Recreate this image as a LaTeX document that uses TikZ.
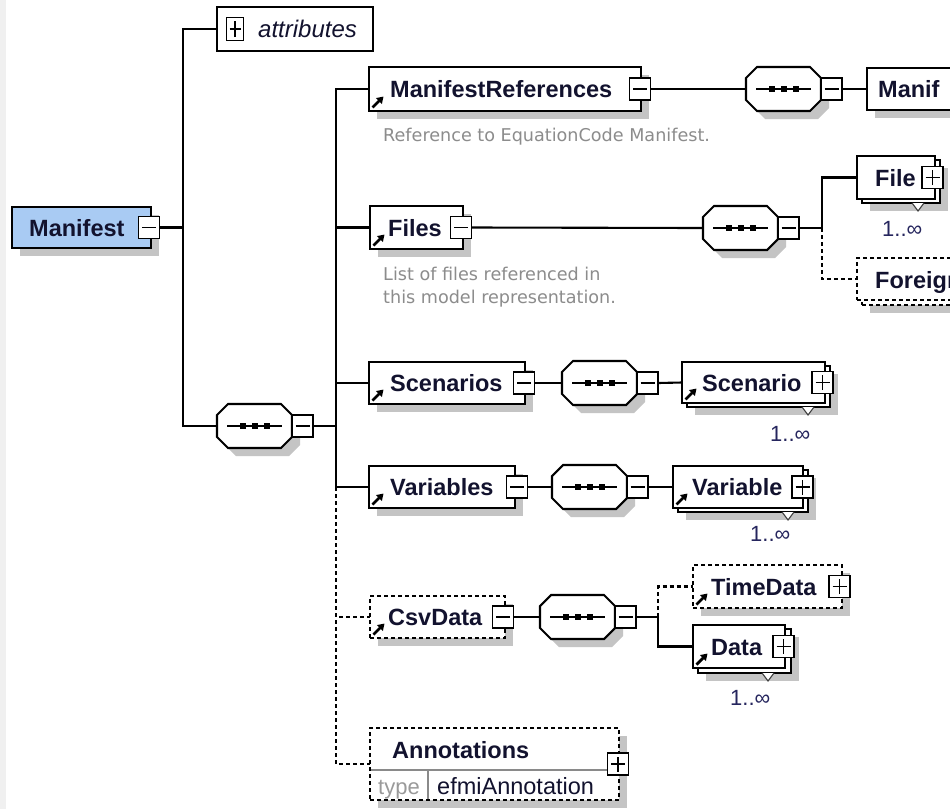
\documentclass[tikz,border=0pt]{standalone}
\usepackage{fontspec}
\setmainfont{Liberation Sans}
\newfontfamily\descfont{DejaVu Sans}
\usetikzlibrary{shadows,arrows.meta}
\definecolor{txt}{HTML}{12122E}
\definecolor{descc}{HTML}{8C8C8C}
\definecolor{multc}{HTML}{26265E}
\definecolor{shc}{HTML}{C4C4C4}
\definecolor{manc}{HTML}{A9CBF3}
\definecolor{typec}{HTML}{9A9A9A}
\definecolor{sepc}{HTML}{8A8A8A}
\definecolor{leftc}{HTML}{F0F0F0}
\tikzset{
  shd/.style={general shadow={fill=shc, draw=none, shadow xshift=8pt, shadow yshift=-8pt}},
  box/.style={draw=black, line width=2.1pt, fill=white, rectangle, inner sep=0pt, outer sep=0pt},
  optbox/.style={box, dash pattern=on 4pt off 3pt},
  seqnode/.style={rectangle, draw=none, inner sep=0pt, outer sep=0pt, minimum width=75pt, minimum height=44pt},
  pmbox/.style={box, line width=1.9pt, minimum width=21pt, minimum height=22pt},
  lab/.style={font=\fontsize{23.5}{28}\selectfont\bfseries, text=txt, inner sep=0pt, anchor=base west},
  attrlab/.style={font=\fontsize{24}{28}\selectfont\itshape, text=txt, inner sep=0pt, anchor=base west},
  desc/.style={font=\descfont\fontsize{17.6}{24}\selectfont, text=descc, inner sep=0pt, anchor=base west},
  mult/.style={font=\fontsize{22}{26}\selectfont, text=multc, inner sep=0pt, anchor=base west},
  typel/.style={font=\fontsize{22}{26}\selectfont, text=typec, inner sep=0pt, anchor=base west},
  vall/.style={font=\fontsize{23.5}{28}\selectfont, text=txt, inner sep=0pt, anchor=base west},
  conn/.style={line width=2.1pt, draw=black},
  optconn/.style={conn, dash pattern=on 4pt off 3pt},
}
% style, name, x1, y1, x2, y2
\newcommand\ElemBox[6]{\node[#1, minimum width={#5-#3}, minimum height={#6-#4}] (#2) at ({(#3+#5)/2},{(#4+#6)/2}) {};}
\newcommand\MinusBox[3]{\node[pmbox] (#1) at (#2,#3) {};
  \draw[line width=1.7pt] ([xshift=3.5pt]#1.west) -- ([xshift=-3.5pt]#1.east);}
\newcommand\PlusBox[3]{\node[pmbox] (#1) at (#2,#3) {};
  \draw[line width=1.7pt] ([xshift=3.5pt]#1.west) -- ([xshift=-3.5pt]#1.east)
    ([yshift=3.5pt]#1.south) -- ([yshift=-3.5pt]#1.north);}
\newcommand\RefArrow[1]{\draw[line width=2.8pt, -{Triangle[length=6.5pt,width=8pt]}]
  ([shift={(3.5pt,3.5pt)}]#1.south west) -- ++(11pt,11pt);}
\newcommand\MultTri[2]{\fill[white] (#1-6,#2) -- (#1,#2+8) -- (#1+6,#2) -- cycle;
  \draw[line width=1.1pt, draw=black!75] (#1-6,#2) -- (#1,#2+8) -- (#1+6,#2);}
\newcommand\SeqAt[3]{%
  \fill[shc, shift={(#2+8,#3+8)}] (-26.5,-22) -- (26.5,-22) -- (37.5,-11) -- (37.5,11) -- (26.5,22) -- (-26.5,22) -- (-37.5,11) -- (-37.5,-11) -- cycle;
  \draw[line width=2.1pt, fill=white, shift={(#2,#3)}] (-26.5,-22) -- (26.5,-22) -- (37.5,-11) -- (37.5,11) -- (26.5,22) -- (-26.5,22) -- (-37.5,11) -- (-37.5,-11) -- cycle;
  \node[seqnode] (#1) at (#2,#3) {};
  \draw[line width=1.7pt] ([xshift=10pt]#1.west) -- ([xshift=-10pt]#1.east);
  \fill ([xshift=-12pt]#1.center) +(-3pt,-3pt) rectangle +(3pt,3pt);
  \fill (#1.center) +(-3pt,-3pt) rectangle +(3pt,3pt);
  \fill ([xshift=12pt]#1.center) +(-3pt,-3pt) rectangle +(3pt,3pt);
  \MinusBox{#1m}{#2+48}{#3}}
\begin{document}
\begin{tikzpicture}[x=1pt,y=-1pt]
\useasboundingbox (0,0) rectangle (950,809);
\clip (0,0) rectangle (950,809);
\fill[white] (0,0) rectangle (950,809);
\fill[leftc] (0,0) rectangle (6,809);

% ---------- Manifest root
\ElemBox{box,shd,fill=manc}{man}{12}{207}{151}{248}
\node[lab] (mant) at (29,236) {Manifest};
\MinusBox{manm}{149}{227.5}

% ---------- attributes
\ElemBox{box}{attr}{217}{7}{373}{51}
\node[pmbox, minimum width=17pt, minimum height=23pt] (attrp) at (235,29) {};
\draw[line width=1.7pt] ([xshift=3pt]attrp.west) -- ([xshift=-3pt]attrp.east)
  ([yshift=3.5pt]attrp.south) -- ([yshift=-3.5pt]attrp.north);
\node[attrlab] (attrt) at (258,37.5) {attributes};

% ---------- main sequence
\SeqAt{s0}{254.5}{426}

% ---------- ManifestReferences row
\ElemBox{box,shd}{mr}{369}{67}{641}{111}
\RefArrow{mr}
\node[lab] (mrt) at (390,97) {ManifestReferences};
\MinusBox{mrm}{640}{89}
\node[desc] (mrd) at (383,141) {Reference to EquationCode Manifest.};
\SeqAt{s1}{783.5}{89}
\ElemBox{box,shd}{mf}{867}{68}{990}{110}
\node[lab] (mft) at (878,97) {Manif};

% ---------- Files row
\ElemBox{box,shd}{fl}{370}{206}{463}{249}
\RefArrow{fl}
\node[lab] (flt) at (388,236) {Files};
\MinusBox{flm}{461}{227.5}
\node[desc] (fld1) at (383,280) {List of files referenced in};
\node[desc] (fld2) at (383,303) {this model representation.};
\SeqAt{s2}{740.5}{228}
\ElemBox{box,shd}{fileb}{862}{160}{940}{203}
\ElemBox{box}{file}{857}{156}{935}{199}
\node[lab] (filet) at (875,186) {File};
\PlusBox{filep}{932.5}{177.5}
\MultTri{918}{203}
\node[mult] (filem) at (882,236) {1..∞};
\ElemBox{optbox,shd}{forb}{862}{263}{1000}{305}
\ElemBox{optbox}{for}{857}{258}{995}{300}
\node[lab] (fort) at (875,288) {Foreign};

% ---------- Scenarios row
\ElemBox{box,shd}{sc}{369}{362}{525}{404}
\RefArrow{sc}
\node[lab] (sct) at (390,391) {Scenarios};
\MinusBox{scm}{524}{383}
\SeqAt{s3}{599.5}{383}
\ElemBox{box,shd}{scnb}{687}{366}{830}{407}
\ElemBox{box}{scn}{682}{362}{825}{403}
\RefArrow{scn}
\node[lab] (scnt) at (702,391) {Scenario};
\PlusBox{scnp}{822.5}{382.5}
\MultTri{808}{407}
\node[mult] (scnm) at (770,441) {1..∞};

% ---------- Variables row
\ElemBox{box,shd}{va}{369}{466}{515}{508}
\RefArrow{va}
\node[lab] (vat) at (390,495) {Variables};
\MinusBox{vam}{517}{487}
\SeqAt{s4}{589.5}{487}
\ElemBox{box,shd}{vrb}{678}{470}{808}{512}
\ElemBox{box}{vr}{673}{466}{803}{508}
\RefArrow{vr}
\node[lab] (vrt) at (692,495) {Variable};
\PlusBox{vrp}{802.5}{487}
\MultTri{788}{512}
\node[mult] (vrm) at (750,541) {1..∞};

% ---------- CsvData row
\ElemBox{optbox,shd}{cv}{370}{596}{505}{638}
\RefArrow{cv}
\node[lab] (cvt) at (388,625) {CsvData};
\MinusBox{cvm}{503}{617}
\SeqAt{s5}{577.5}{617}
\ElemBox{optbox,shd}{td}{693}{565}{842}{608}
\RefArrow{td}
\node[lab] (tdt) at (711,595) {TimeData};
\PlusBox{tdp}{839.5}{586.5}
\ElemBox{box,shd}{dab}{698}{629}{791}{673}
\ElemBox{box}{da}{693}{625}{785}{668}
\RefArrow{da}
\node[lab] (dat) at (711,655) {Data};
\PlusBox{dap}{783.5}{646.5}
\MultTri{768}{673}
\node[mult] (dam) at (730,705) {1..∞};

% ---------- Annotations
\ElemBox{optbox,shd}{an}{370}{728}{619}{800}
\draw[line width=1.2pt, sepc] (371,770) -- (618,770);
\draw[line width=1.2pt, sepc] (428,770) -- (428,799);
\node[lab] (ant) at (392,758) {Annotations};
\node[typel] (antype) at (378,794) {type};
\node[vall] (anval) at (437,794) {efmiAnnotation};
\PlusBox{anp}{618}{764}

% ---------- connectors
\coordinate (j1) at (183,227.5);
\draw[conn] (manm.east) -- (j1);
\draw[conn] (j1) |- (attr.west);
\draw[conn] (j1) |- (s0.west);
\coordinate (j2) at (336,426);
\draw[conn] (s0m.east) -- (j2);
\draw[conn] (j2) |- (mr.west);
\draw[conn] (j2) |- (fl.west);
\draw[conn] (j2) |- (sc.west);
\draw[conn] (j2) |- (va.west);
\coordinate (j2b) at (336,487);
\draw[optconn] (j2b) |- (cv.west);
\draw[optconn] (j2b) |- (an.west);

\draw[conn] (mrm.east) -- (s1.west);
\draw[conn] (s1m.east) -- (mf.west);

\draw[conn] (flm.east) -- (s2.west);
\coordinate (j3) at (822,228);
\draw[conn] (s2m.east) -- (j3);
\draw[conn] (j3) |- (file.west);
\draw[optconn] (j3) |- (for.west);

\draw[conn] (scm.east) -- (s3.west);
\draw[conn] (s3m.east) -- (scn.west);

\draw[conn] (vam.east) -- (s4.west);
\draw[conn] (s4m.east) -- (vr.west);

\draw[conn] (cvm.east) -- (s5.west);
\coordinate (j4) at (658,617);
\draw[conn] (s5m.east) -- (j4);
\draw[optconn] (j4) |- (td.west);
\draw[conn] (j4) |- (da.west);
\end{tikzpicture}
\end{document}
